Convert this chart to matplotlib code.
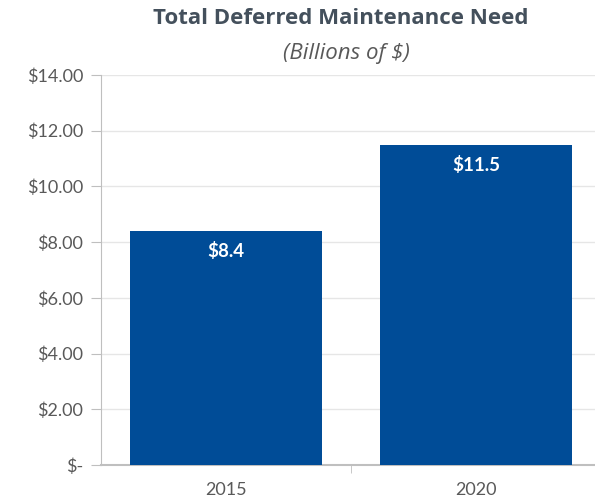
import matplotlib.pyplot as plt
from matplotlib.ticker import FuncFormatter

years = ['2015', '2020']
need = [8.4, 11.5]
value_labels = ['$8.4', '$11.5']
yticks = [0, 2, 4, 6, 8, 10, 12, 14]

plt.rcParams['font.family'] = ['Lato', 'DejaVu Sans']
gray = '#595959'
blue = '#004C97'

fig = plt.figure(figsize=(5.95, 5.04), dpi=100)
ax = fig.add_axes([101 / 595, 1 - 465 / 504, 500 / 595, 390 / 504])

x = range(len(years))
bars = ax.bar(x, need, width=0.77, color=blue, zorder=3)
for b, lab in zip(bars, value_labels):
    ax.text(b.get_x() + b.get_width() / 2, b.get_height() - 0.4, lab,
            ha='center', va='top', color='white', fontsize=13.5, fontweight='bold', zorder=4)

ax.set_xlim(-0.5, 1.5)
ax.set_ylim(0, 14)
ax.set_yticks(yticks)
ax.yaxis.set_major_formatter(FuncFormatter(lambda v, p: '$-' if v == 0 else f'${v:.2f}'))
ax.set_xticks(list(x))
ax.set_xticklabels(years)
ax.set_xticks([0.5], minor=True)
ax.tick_params(axis='x', which='major', length=0, pad=12, labelsize=13, labelcolor=gray)
ax.tick_params(axis='x', which='minor', length=6, color='#bfbfbf', direction='out')
ax.tick_params(axis='y', length=7, color='#bfbfbf', pad=6, labelsize=13, labelcolor=gray)
ax.grid(axis='y', color='#e6e6e6', linewidth=1, zorder=0)

for s in ['top', 'right']:
    ax.spines[s].set_visible(False)
ax.spines['left'].set_color('#bfbfbf')
ax.spines['bottom'].set_color('#bfbfbf')
ax.spines['bottom'].set_linewidth(1.5)

fig.text(341 / 595, 1 - 19 / 504, 'Total Deferred Maintenance Need', ha='center', va='center',
         fontsize=16, fontweight='bold', color='#44505c', family=['Open Sans', 'DejaVu Sans'])
fig.text(346 / 595, 1 - 54 / 504, '(Billions of $)', ha='center', va='center',
         fontsize=16, style='italic', color=gray, family=['Open Sans', 'DejaVu Sans'])

fig.savefig('out.png', dpi=100)
